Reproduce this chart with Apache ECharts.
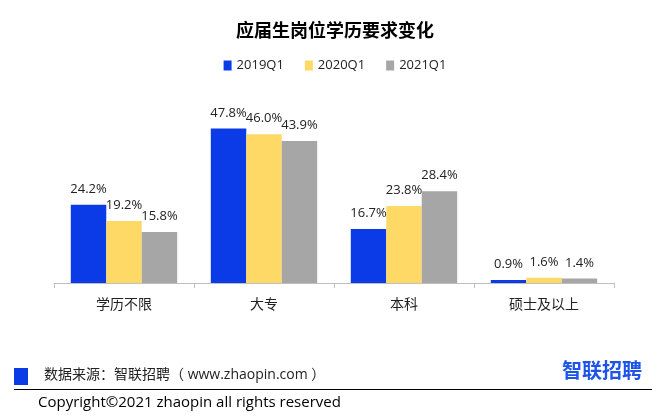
<!DOCTYPE html>
<html>
<head>
<meta charset="utf-8">
<script src="https://cdn.jsdelivr.net/npm/echarts@6/dist/echarts.min.js"></script>
<style>
  html, body { margin: 0; padding: 0; background: #fff; }
  #chart { width: 670px; height: 420px; }
</style>
</head>
<body>
<div id="chart"></div>
<script>
const categories = ['学历不限', '大专', '本科', '硕士及以上']
const seriesNames = ['2019Q1', '2020Q1', '2021Q1']
const values2019 = [24.2, 47.8, 16.7, 0.9]
const values2020 = [19.2, 46.0, 23.8, 1.6]
const values2021 = [15.8, 43.9, 28.4, 1.4]
const colors = ['#0a3be6', '#ffd966', '#a6a6a6']

const font = '"Open Sans", "Noto Sans CJK SC", sans-serif'
const chart = echarts.init(document.getElementById('chart'))

const makeSeries = (name, data, color) => ({
  name,
  type: 'bar',
  data,
  barGap: '0%',
  barCategoryGap: '24%',
  itemStyle: { color },
  label: {
    show: true,
    position: 'top',
    distance: 9,
    color: '#222',
    fontSize: 13,
    fontFamily: font,
    formatter: (p) => p.value.toFixed(1) + '%',
  },
})

chart.setOption({
  animation: false,
  title: {
    text: '应届生岗位学历要求变化',
    left: 'center',
    top: 18,
    textStyle: { fontSize: 18, fontWeight: 'bold', color: '#000', fontFamily: font },
  },
  legend: {
    top: 54,
    left: 'center',
    itemWidth: 8,
    itemHeight: 10,
    itemGap: 21,
    icon: 'rect',
    data: seriesNames,
    textStyle: { fontSize: 13, color: '#222', fontFamily: font, padding: [0, 0, 0, 0] },
  },
  grid: { left: 54, right: 56, top: 89, bottom: 137 },
  xAxis: {
    type: 'category',
    data: categories,
    axisLine: { lineStyle: { color: '#bfbfbf' } },
    axisTick: { show: true, length: 5, lineStyle: { color: '#bfbfbf' } },
    axisLabel: { color: '#222', fontSize: 14, margin: 15, fontFamily: font },
  },
  yAxis: {
    type: 'value',
    min: 0,
    max: 60,
    show: false,
    splitLine: { show: false },
  },
  series: [
    makeSeries(seriesNames[0], values2019, colors[0]),
    makeSeries(seriesNames[1], values2020, colors[1]),
    makeSeries(seriesNames[2], values2021, colors[2]),
  ],
  graphic: [
    { type: 'rect', left: 14, top: 368, shape: { width: 14, height: 17 }, style: { fill: '#0a3be6' } },
    {
      type: 'text', left: 44, top: 368,
      style: { text: '数据来源：智联招聘（ www.zhaopin.com ）', fontSize: 14, fill: '#222', fontFamily: font },
    },
    {
      type: 'text', left: 562, top: 362,
      style: { text: '智联招聘', fontSize: 20, fontWeight: 'bold', fill: '#1f55e6', fontFamily: font },
    },
    { type: 'line', shape: { x1: 14, y1: 389.5, x2: 652, y2: 389.5 }, style: { stroke: '#000', lineWidth: 1 } },
    {
      type: 'text', left: 38, top: 395,
      style: { text: 'Copyright©2021 zhaopin all rights reserved', fontSize: 15, fill: '#000', fontFamily: font },
    },
  ],
})
</script>
</body>
</html>
